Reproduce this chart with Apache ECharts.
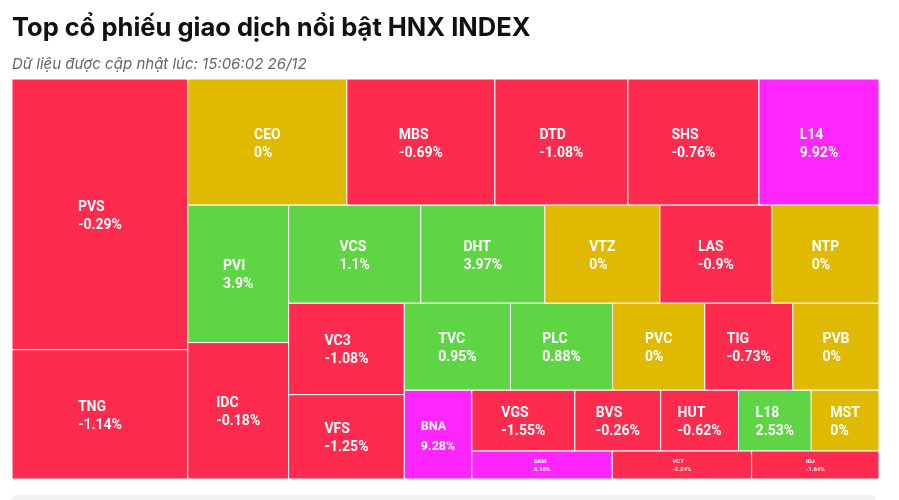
<!DOCTYPE html>
<html>
<head>
<meta charset="utf-8">
<script src="https://cdn.jsdelivr.net/npm/echarts@6/dist/echarts.min.js"></script>
<style>
html,body{margin:0;padding:0;background:#fff;}
#c{width:899px;height:500px;}
</style>
</head>
<body>
<div id="c"></div>
<script>
// ---- data ----
const tickers = ['PVS','TNG','CEO','MBS','DTD','SHS','L14','PVI','IDC','VCS','DHT','VTZ','LAS','NTP','VC3','VFS','TVC','PLC','PVC','TIG','PVB','BNA','VGS','BVS','HUT','L18','MST','SKM','VC7','IDJ'];
const tradeValues = [47520,22704,20034,18648,16758,16506,15120,13837,13736,12936,12152,11270,10976,10486,10556,9744,9222,8874,8004,7656,7482,5984,6257,5214,4723,4418,4114,3920,3892,3556];
const changes = [-0.29,-1.14,0,-0.69,-1.08,-0.76,9.92,3.9,-0.18,1.1,3.97,0,-0.9,0,-1.08,-1.25,0.95,0.88,0,-0.73,0,9.28,-1.55,-0.26,-0.62,2.53,0,8.16,-2.24,-1.64];
const ceiling = ['L14','BNA','SKM'];

// ---- style ----
const AREA = { x: 12, y: 79, w: 867, h: 400 };
function colorOf(name, c) {
  if (ceiling.indexOf(name) >= 0) return '#FF25FF';
  if (c > 0) return '#5FD444';
  if (c < 0) return '#FF2B4F';
  return '#E0BA00';
}

// squarified layout with alternating strip direction (values -> rects)
function stripLayout(values, box) {
  const total = values.reduce((a, b) => a + b, 0);
  const scale = box.w * box.h / total;
  const areas = values.map(v => v * scale);
  const rect = { x: box.x, y: box.y, w: box.w, h: box.h };
  let dir = 0;
  const out = [];
  let strip = [];
  const thick = s => dir === 0 ? s / rect.h : s / rect.w;
  const ratio = (a, s) => { const t = thick(s); const l = a / t; return Math.max(t / l, l / t); };
  const sumOf = arr => arr.reduce((s, j) => s + areas[j], 0);
  function place(idxs) {
    const t = thick(sumOf(idxs));
    let pos = dir === 0 ? rect.y : rect.x;
    idxs.forEach(i => {
      const l = areas[i] / t;
      out[i] = dir === 0 ? { x: rect.x, y: pos, w: t, h: l } : { x: pos, y: rect.y, w: l, h: t };
      pos += l;
    });
    if (dir === 0) { rect.x += t; rect.w -= t; } else { rect.y += t; rect.h -= t; }
    dir = 1 - dir;
  }
  for (let i = 0; i < areas.length; i++) {
    if (strip.length) {
      const last = strip[strip.length - 1];
      const s = sumOf(strip);
      if (ratio(areas[last], s + areas[i]) > ratio(areas[last], s)) { place(strip); strip = []; }
    }
    strip.push(i);
  }
  if (strip.length) place(strip);
  return out;
}

const cells = stripLayout(tradeValues, AREA);

const chart = echarts.init(document.getElementById('c'), null, { renderer: 'canvas' });
chart.setOption({
  animation: false,
  title: [
    { text: 'Top cổ phiếu giao dịch nổi bật HNX INDEX', left: 7, top: 10,
      textStyle: { fontFamily: 'Inter', fontSize: 25.5, fontWeight: 'bold', color: '#111' } },
    { text: 'Dữ liệu được cập nhật lúc: 15:06:02 26/12', left: 7, top: 52,
      textStyle: { fontFamily: 'Inter', fontSize: 15, fontWeight: 'normal', fontStyle: 'italic', color: '#666' } }
  ],
  graphic: [
    { type: 'rect', shape: { x: 10, y: 495, width: 867, height: 20, r: 8 }, style: { fill: '#f1f1f1' } }
  ],
  series: [{
    type: 'custom',
    coordinateSystem: 'none',
    data: tickers.map((n, i) => ({ name: n, value: [tradeValues[i], changes[i]] })),
    renderItem: function (params, api) {
      const i = params.dataIndex;
      const r = cells[i];
      const name = tickers[i];
      const fs = r.h < 40 ? 6 : (r.w < 75 && r.h > 70 ? 12.5 : 14);
      return {
        type: 'group',
        children: [
          { type: 'rect', shape: { x: r.x, y: r.y, width: r.w, height: r.h },
            style: { fill: colorOf(name, changes[i]), stroke: '#fff', lineWidth: 1 } },
          { type: 'text', x: r.x + r.w / 2, y: r.y + r.h / 2 + (fs > 10 ? 2 : 0),
            style: {
              text: '{a|' + name + '}\n{a|' + changes[i] + '%}',
              align: 'center', verticalAlign: 'middle',
              rich: { a: { align: 'left', fontSize: fs, fontWeight: 'bold', fontFamily: 'Roboto', fill: '#fff', lineHeight: fs > 13 ? 18 : (fs > 10 ? 20 : fs + 2) } }
            } }
        ]
      };
    }
  }]
});
</script>
</body>
</html>
